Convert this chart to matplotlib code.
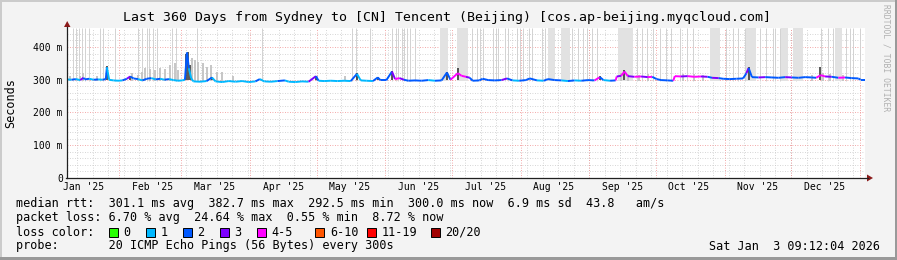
import numpy as np
import matplotlib.pyplot as plt
from matplotlib.collections import LineCollection
from matplotlib.patches import Rectangle, Polygon
from matplotlib.lines import Line2D

plt.rcParams['font.family'] = ['DejaVu Sans Mono']

W, H = 897, 260

title = 'Last 360 Days from Sydney to [CN] Tencent (Beijing) [cos.ap-beijing.myqcloud.com]'

# days counted from the window start (Jan 8 2025 09:12)
month_names = ["Jan '25", "Feb '25", "Mar '25", "Apr '25", "May '25", "Jun '25",
               "Jul '25", "Aug '25", "Sep '25", "Oct '25", "Nov '25", "Dec '25"]
month_start = [-7.38, 23.62, 51.62, 82.62, 112.62, 143.62,
               173.62, 204.62, 235.62, 265.62, 296.62, 326.62, 357.62]
week_start = [4.62, 11.62, 18.62, 25.62, 32.62, 39.62, 46.62, 53.62, 60.62, 67.62,
              74.62, 81.62, 88.62, 95.62, 102.62, 109.62, 116.62, 123.62, 130.62,
              137.62, 144.62, 151.62, 158.62, 165.62, 172.62, 179.62, 186.62,
              193.62, 200.62, 207.62, 214.62, 221.62, 228.62, 235.62, 242.62,
              249.62, 256.62, 263.62, 270.62, 277.62, 284.62, 291.62, 298.62,
              305.62, 312.62, 319.62, 326.62, 333.62, 340.62, 347.62, 354.62]

# median rtt (ms) and loss class per sample
days = [0, 2, 4, 6, 7.4, 8, 10, 12, 14, 16,
        17.5, 18, 19, 21, 23, 25, 27, 28.5, 30, 32,
        34, 36, 38, 40, 42, 44, 46, 48, 50, 52,
        53.2, 54.1, 55, 56, 57, 60, 63, 65.4, 67, 70,
        73, 76, 79, 82, 85, 87, 89, 92, 95, 98.3,
        100, 103, 106, 109, 112.3, 113.5, 116, 119, 122, 125,
        128, 130.8, 132.5, 135, 138, 140.2, 141.5, 144, 146.6, 148,
        150, 152, 154, 157, 160, 163, 166, 169, 171.4, 173,
        176.3, 178, 180, 181.7, 183, 186, 187.5, 190, 193, 196,
        198.5, 201, 204, 207, 208.8, 212, 215, 217, 220, 223,
        226, 229, 232, 235, 238, 240.4, 242, 245, 247.5, 248,
        250, 251.5, 253, 256, 259, 262, 264, 266, 268, 271,
        273.5, 274.2, 277, 280, 283, 286, 289, 291, 294, 296,
        299, 302, 305, 306.5, 307.5, 309, 312, 315, 318, 321,
        324, 327, 330, 333, 336, 338, 340, 342, 345, 348,
        351, 354, 357, 358, 360]
median = [301, 300, 302, 299, 306, 301, 303, 300, 301, 300,
          302, 338, 300, 298, 297, 298, 303, 310, 304, 302,
          298, 303, 305, 301, 303, 300, 302, 299, 297, 298,
          300, 383, 335, 305, 295, 294, 296, 307, 295, 293,
          296, 294, 296, 293, 295, 302, 295, 294, 296, 298,
          294, 293, 295, 294, 311, 297, 296, 297, 296, 297,
          296, 318, 298, 297, 296, 307, 298, 298, 325, 302,
          305, 300, 297, 298, 297, 299, 297, 298, 322, 300,
          320, 312, 309, 306, 297, 298, 303, 299, 298, 299,
          304, 298, 297, 299, 304, 298, 297, 302, 299, 298,
          296, 298, 297, 299, 298, 308, 299, 297, 298, 310,
          312, 325, 311, 309, 310, 308, 309, 302, 299, 298,
          297, 311, 310, 311, 309, 310, 309, 306, 305, 303,
          302, 303, 304, 320, 336, 308, 307, 308, 307, 306,
          308, 307, 306, 308, 307, 306, 314, 310, 309, 306,
          307, 305, 304, 300, 300]
loss = [2, 1, 2, 1, 3, 2, 2, 1, 2, 1,
        2, 2, 1, 1, 1, 1, 2, 3, 2, 2,
        1, 2, 2, 1, 2, 1, 2, 1, 1, 1,
        1, 2, 2, 1, 1, 1, 1, 2, 1, 1,
        1, 1, 1, 1, 1, 2, 1, 1, 1, 2,
        1, 1, 1, 1, 3, 2, 1, 1, 1, 1,
        1, 2, 1, 1, 1, 2, 2, 2, 2, 3,
        4, 3, 2, 2, 2, 2, 1, 2, 2, 2,
        4, 4, 4, 3, 2, 2, 2, 2, 2, 2,
        3, 2, 1, 2, 2, 2, 1, 2, 2, 2,
        1, 2, 1, 2, 2, 4, 2, 1, 2, 4,
        3, 4, 4, 3, 4, 3, 4, 2, 2, 2,
        2, 4, 4, 3, 4, 4, 3, 2, 3, 2,
        2, 2, 2, 2, 3, 2, 2, 3, 2, 2,
        2, 3, 2, 2, 2, 2, 4, 4, 3, 2,
        4, 2, 2, 2, 2]

# smoke: pings far above the top of the graph
tall_days = [2.6, 4.1, 5.5, 6.9, 8.3, 9.8, 14.9, 16.4, 21.6, 32.2, 33.7, 35.9,
             37.1, 38.9, 40.4, 47.2, 49.0, 58.5, 87.8, 128.4, 130.4, 136.7,
             146.5, 148.2, 149.4, 151.0, 152.0, 153.2, 154.7, 157.0,
             182.5, 184.9, 186.2, 187.5, 192.2, 193.5, 194.4, 197.5, 199.0,
             203.0, 204.3, 205.8, 208.3, 209.7, 214.2, 215.6, 228.0, 230.4,
             232.7, 234.4, 237.0, 238.9, 257.0, 259.2, 261.5, 264.4, 267.4,
             270.4, 272.7, 276.4, 279.5, 282.5, 297.5, 300.5, 302.7, 305.8,
             312.5, 315.5, 318.5, 319.3, 321.5, 329.0, 340.3, 343.3, 345.6,
             348.6, 351.6, 353.1, 354.6, 357.6]
tall_from = [168.3, 175.8, 217.0, 223.0, 248.5, 290.0, 306.5, 322.3, 327.5, 346.4]
tall_to = [171.8, 181.0, 220.0, 226.8, 255.3, 294.5, 311.0, 325.3, 332.0, 349.4]

# grey smoke tops (ms)
smoke_days = [1.4, 5.9, 7.4, 13.4, 29.2, 32.2, 33.7, 35.2, 37.4, 39.7, 42.0,
              44.2, 46.5, 48.7, 50.2, 56.2, 57.7, 59.2, 61.2, 63.0, 64.8,
              67.5, 69.8, 75.0, 112.6, 125.4, 130.7, 250, 253, 258, 262,
              278, 283, 287, 336, 341, 344, 350]
smoke_top = [310, 310, 321, 310, 320, 314, 325, 335, 332, 330, 335,
             332, 345, 350, 330, 365, 360, 355, 350, 338, 345,
             325, 325, 311, 310, 311, 320, 322, 318, 316, 318,
             318, 317, 316, 316, 322, 318, 316]

# dark smoke (dense pings)
dark_days = [17.9, 28.6, 53.6, 54.5, 55.3, 65.2, 112.2, 130.8, 140.2, 146.6,
             171.4, 176.3, 240.4, 251.5, 307.5, 339.7]
dark_top = [342, 312, 380, 384, 345, 309, 312, 321, 309, 327,
            324, 335, 310, 330, 338, 340]

loss_colors = ['#26ff00', '#00b8ff', '#0059ff', '#7e00ff',
               '#ff00ff', '#ff5500', '#ff0000', '#a10000']
loss_labels = ['0', '1', '2', '3', '4-5', '6-10', '11-19', '20/20']


def fx(x):
    return x / W


def fy(y):
    return 1 - y / H


fig = plt.figure(figsize=(W / 100, H / 100), dpi=100, facecolor='#f3f3f3')

# 3d frame
fig.add_artist(Rectangle((0, fy(2)), 1, 2 / H, transform=fig.transFigure, color='#cbcbcb', lw=0))
fig.add_artist(Rectangle((0, 0), 2 / W, 1, transform=fig.transFigure, color='#cbcbcb', lw=0))
fig.add_artist(Rectangle((0, 0), 1, 3 / H, transform=fig.transFigure, color='#999999', lw=0))
fig.add_artist(Rectangle((fx(895), 0), 2 / W, 1, transform=fig.transFigure, color='#999999', lw=0))

ax = fig.add_axes([fx(67), fy(178), 798 / W, 150 / H])
ax.set_xlim(0, 360)
ax.set_ylim(0, 458)
ax.set_facecolor('white')
for s in ax.spines.values():
    s.set_visible(False)
ax.tick_params(length=0, labelsize=7, pad=3)

# grid
for v in range(20, 460, 20):
    if v % 100:
        ax.axhline(v, color='#c8c8c8', lw=0.6, ls=(0, (1, 2)), zorder=0)
for v in week_start:
    ax.axvline(v, color='#c8c8c8', lw=0.6, ls=(0, (1, 2)), zorder=0)
for v in (100, 200, 300, 400):
    ax.axhline(v, color='#f08c8c', lw=0.6, ls=(0, (1, 2)), zorder=0)
for v in month_start:
    if 0 < v < 360:
        ax.axvline(v, color='#f08c8c', lw=0.6, ls=(0, (1, 2)), zorder=0)

# smoke
ax.vlines(tall_days, 295, 458, color='#d2d2d2', lw=0.7, zorder=1)
for a, b in zip(tall_from, tall_to):
    ax.fill_between([a, b], 295, 458, color='#e2e2e2', lw=0, zorder=1)
ax.vlines(smoke_days, 295, smoke_top, color='#c6c6c6', lw=1.4, zorder=2)
ax.vlines(dark_days, 298, dark_top, color='#2a2a2a', lw=1.1, zorder=3)

# median rtt coloured by loss
pts = np.column_stack([days, median])
segs = [pts[i:i + 2] for i in range(len(days) - 1)]
cols = [loss_colors[l] for l in loss[1:]]
ax.add_collection(LineCollection(segs, colors=cols, linewidths=1.4, zorder=4))

ax.set_yticks([0, 100, 200, 300, 400])
ax.set_yticklabels(['0', '100 m', '200 m', '300 m', '400 m'])
ax.set_xticks([m + 15 for m in month_start[:12]])
ax.set_xticklabels(month_names)
ax.set_ylabel('Seconds', fontsize=8.5, labelpad=12)

# axes with arrows
fig.add_artist(Line2D([fx(67), fx(67)], [fy(178), fy(27)], color='#202020', lw=0.9))
fig.add_artist(Line2D([fx(66), fx(868)], [fy(178), fy(178)], color='#202020', lw=0.9))
fig.add_artist(Polygon([[fx(64), fy(27)], [fx(70.5), fy(27)], [fx(67.2), fy(21)]],
                       closed=True, transform=fig.transFigure, color='#8b1a1a', lw=0))
fig.add_artist(Polygon([[fx(867), fy(174.5)], [fx(867), fy(181.5)], [fx(873), fy(178)]],
                       closed=True, transform=fig.transFigure, color='#8b1a1a', lw=0))

fig.text(fx(447), fy(18), title, ha='center', va='center', fontsize=9.5)
fig.text(fx(886), fy(4), 'RRDTOOL / TOBI OETIKER', rotation=270, ha='center', va='top',
         fontsize=5.8, color='#b0b0b0')

fs = 8.5
fig.text(fx(16), fy(204), 'median rtt:  301.1 ms avg  382.7 ms max  292.5 ms min  '
         '300.0 ms now  6.9 ms sd  43.8   am/s', va='center', fontsize=fs)
fig.text(fx(16), fy(218), 'packet loss: 6.70 % avg  24.64 % max  0.55 % min  8.72 % now',
         va='center', fontsize=fs)
fig.text(fx(16), fy(232), 'loss color:', va='center', fontsize=fs)
sq_x = [108.5, 145.5, 182.5, 219.5, 256.5, 315, 366.5, 430.5]
for x, c, lab in zip(sq_x, loss_colors, loss_labels):
    fig.add_artist(Rectangle((fx(x), fy(236.5)), 9 / W, 9 / H, transform=fig.transFigure,
                             facecolor=c, edgecolor='black', lw=0.7))
    fig.text(fx(x + 15), fy(232), lab, va='center', fontsize=fs)
fig.text(fx(16), fy(246), 'probe:       20 ICMP Echo Pings (56 Bytes) every 300s',
         va='center', fontsize=fs)
fig.text(fx(880), fy(246), 'Sat Jan  3 09:12:04 2026', va='center', ha='right', fontsize=fs)

fig.savefig('out.png', dpi=100, facecolor=fig.get_facecolor())
